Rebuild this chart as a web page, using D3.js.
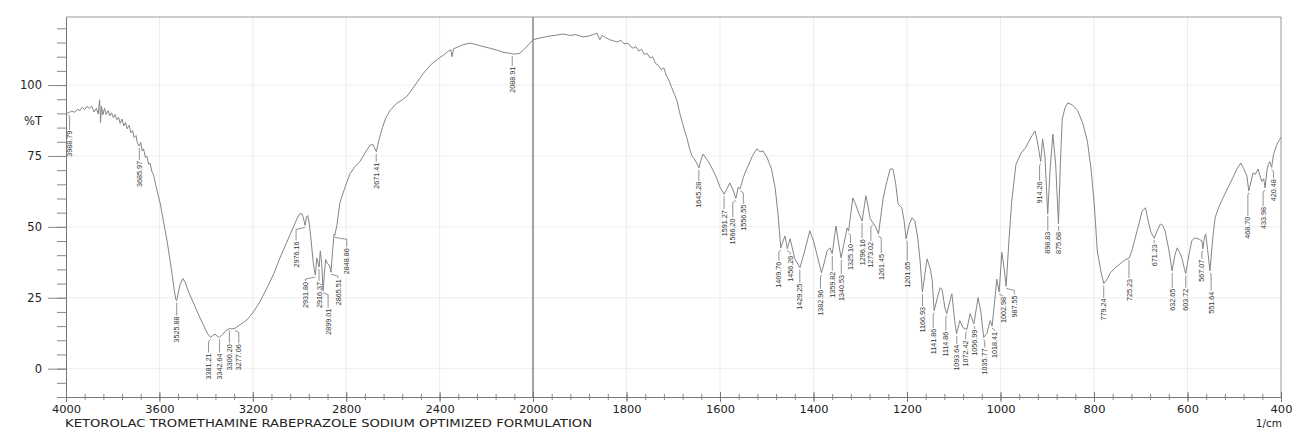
<!DOCTYPE html>
<html>
<head>
<meta charset="utf-8">
<script src="https://cdn.jsdelivr.net/npm/d3@7"></script>
<style>
  body { margin: 0; background: #fff; }
  text { font-family: "DejaVu Sans", sans-serif; }
</style>
</head>
<body>
<div id="chart"></div>
<script>

// spectrum (wavenumber 1/cm, %T)
const wn = [4000,3990,3975,3962,3950,3940,3930,3920,3910,3900,3890,3880,3870,3862,3856,3852,3848,3842,3835,3828,3820,3812,3805,3797,3790,3782,3775,3768,3760,3752,3745,3738,3730,3722,3715,3708,3700,3694,3686,3680,3674,3668,3660,3654,3646,3640,3632,3625,3615,3605,3597,3585,3575,3567,3555,3546,3537,3530,3526,3521,3512,3500,3490,3475,3456,3435,3413,3395,3381,3372,3362,3352,3343,3330,3315,3300,3290,3277,3260,3240,3225,3199,3170,3139,3110,3084,3055,3028,3010,2998,2988,2980,2976,2970,2965,2958,2950,2942,2937,2932,2926,2921,2916,2911,2905,2899,2893,2888,2880,2872,2865,2858,2852,2849,2840,2827,2805,2784,2760,2741,2720,2698,2685,2671,2660,2645,2630,2612,2585,2560,2540,2505,2471,2440,2410,2385,2365,2352,2347,2340,2325,2300,2270,2245,2214,2185,2154,2125,2098,2089,2070,2056,2035,2013,2000,
  1985,1964,1950,1936,1920,1908,1893,1880,1870,1863,1857,1852,1845,1836,1828,1820,1812,1805,1797,1790,1786,1780,1774,1768,1762,1756,1750,1744,1738,1732,1726,1720,1715,1709,1703,1697,1692,1686,1680,1675,1671,1665,1660,1655,1650,1645,1640,1636,1630,1624,1615,1608,1600,1591,1585,1579,1572,1566,1561,1557,1550,1540,1530,1521,1514,1508,1499,1490,1482,1476,1470,1465,1461,1456,1450,1440,1429,1418,1408,1400,1393,1383,1376,1371,1365,1360,1352,1346,1341,1335,1328,1325,1320,1316,1310,1305,1296,1288,1283,1279,1273,1267,1261,1255,1251,1243,1236,1230,1224,1219,1211,1206,1202,1195,1189,1183,1177,1172,1167,1162,1157,1150,1146,1142,1135,1129,1125,1119,1115,1108,1104,1098,1094,1087,1080,1072,1065,1057,1048,1042,1036,1029,1022,1018,1013,1008,1003,997,992,988,982,976,967,956,946,935,926,920,914,910,905,899,894,888,882,876,872,868,862,856,846,835,824,814,806,799,793,785,779,772,765,755,744,735,725,718,712,704,697,690,684,678,671,664,658,653,648,640,633,627,622,617,612,607,604,597,591,586,580,574,569,567,564,561,557,552,546,541,533,524,513,503,494,486,480,473,469,464,460,455,449,445,441,437,434,430,427,424,420,416,409,404,400];

const trans = [90,90.2,90.8,90.4,91.5,91,92.2,91.4,92.5,91.8,92.6,90.5,91.8,89.8,94.8,86.8,92.5,89.5,91.8,89.6,91,89.2,90.2,88.5,89.6,87.8,88.6,86.5,88,85.6,86.8,84.6,85.8,83.2,84,81.5,82.2,79.5,78.5,79.8,76.8,77.5,74.5,75,72,72.5,69.5,68.3,64.5,61,58.5,53,48.5,45,38.5,33.5,28,24.5,24,26,29.5,31.8,30.5,27,23.5,19.5,15.6,12.5,11,11.6,12.2,11.4,11,12,13.4,14.2,14,14.2,15.2,16.3,17.2,19.8,23.5,28.5,33.5,39,44.5,49.6,53,54.7,54.5,52,50.5,53.5,54,51,45,38,35,33,39,37.5,35.8,41.5,37,27.5,34,38.5,37,36.5,34,42,47.5,47,50.5,58.5,64,68.7,71.5,73,76,78.8,79,76.5,80.5,85,88.5,91,93.5,94.8,96,100,104,107,109,110.5,111.8,112.5,110,112.8,113.3,114.2,114.8,114.3,113.6,113,112.3,111.5,111.2,111,111,111.2,112.8,114.8,116,
  116.6,117.3,117.6,118,117.5,117.8,117,117.3,117.9,118.2,116,117.5,116.8,116,115.6,115.2,115.8,114.5,114.8,113.4,113,113.6,112,112.6,110.8,111.2,109.6,110,107.6,107,105.5,106,103.5,101.6,99,96.6,94.5,90,86.5,83.5,81.5,77.5,75,74,72.5,70.8,74,75.7,74.2,72.8,70,67.5,64,61.5,63.5,65.5,63,60,64,63.4,67.5,71.5,75.2,77.5,76.5,76.8,74.3,70.5,63.7,54.6,42.6,45,46.8,42.3,45.8,38.7,35.6,42,48.6,45,40.5,33.8,38,41.5,42.6,40.5,50.3,44,39,44,49.6,48.5,55,60.2,58,55.6,52,61,57,53,51.4,50,47.5,55,60.2,66,70.4,70.4,65,58,56.7,52,45.8,51,53.2,52,46,38,27,33,38.7,35,31,20.4,25,28.5,28,21.5,19.4,24,26.4,16.9,12.3,16.9,14.4,13.8,19.4,15.8,25,20,11,12.5,16.9,15,23,31.5,27,41,35,29,45,59,72,76,78,81.5,83.8,79,73,81,75,54.6,70,82.7,72,51,72,88,92,93.7,93,91,86.5,80,70,57,41.5,34,30,31.5,33.8,35.5,37,38.2,39,42,46,51,55.6,56.7,52,48,46,49,51,50.5,48.6,42,34.5,40,42.6,41,39,35.5,33.5,40,45,46,46,45.5,45,42.3,46,47.5,42,34.5,46,53.2,57,60.2,64,67.3,70.5,72.5,70.5,68,62.7,66,69,68.5,70.4,68,66,67,63.7,70,72,73,71,75.5,79,80.5,81.5];

// peak table printed on the chart
const peakWn = [3988.79,3685.97,3525.88,3381.21,3342.64,3300.20,3277.06,2976.16,2931.80,2916.37,2899.01,2865.51,2848.86,2671.41,2088.91,1645.28,1591.27,1566.20,1556.55,1469.76,1456.26,1429.25,1382.96,1359.82,1340.53,1325.10,1296.16,1273.02,1261.45,1201.65,1166.93,1141.86,1114.86,1093.64,1072.42,1056.99,1035.77,1018.41,1002.98,987.55,914.26,898.83,875.68,779.24,725.23,671.23,632.65,603.72,567.07,551.64,468.70,433.98,420.48];
const peakT = [90.2,78.5,24,11,11,14.2,14.2,50.5,33,35.8,27.5,34,47,76.5,111,70.8,61.5,60,63.4,42.6,42.3,35.6,33.8,40.5,39,48.5,52,51.4,47.5,45.8,27,20.4,19.4,12.3,13.8,15.8,11,15,27,29,73,54.6,51,30,39,46,34.5,33.5,42.3,34.5,62.7,63.7,71];

const yMajor = [0, 25, 50, 75, 100];
const xMajor = [4000,3600,3200,2800,2400,2000,1800,1600,1400,1200,1000,800,600,400];
const title = "KETOROLAC TROMETHAMINE RABEPRAZOLE SODIUM OPTIMIZED FORMULATION";

// label leader tweaks: [dx, leader length]
const nudge = {
  "3988.79":[1,17], "3525.88":[0,15], "3381.21":[-2,15], "3342.64":[0,15], "3300.20":[0,15], "3277.06":[4,15],
  "2976.16":[-9,15], "2931.80":[-10,6], "2899.01":[5,17], "2865.51":[7,6], "2848.86":[12,12], "2671.41":[0,10],
  "2088.91":[0,12], "1645.28":[0,13], "1591.27":[0,15], "1566.20":[-3,19], "1556.55":[3,15], "1469.76":[-2,13],
  "1456.26":[3,6], "1429.25":[0,15], "1382.96":[-1,16], "1359.82":[0,17], "1340.53":[0,16], "1325.10":[2,12],
  "1296.16":[0,17], "1273.02":[-2,18], "1261.45":[3,19], "1201.65":[1,22], "1141.86":[-1,17], "1114.86":[-1,17],
  "1093.64":[0,10], "1072.42":[-1,10], "1056.99":[1,5], "1035.77":[1,10], "1018.41":[3,5], "1002.98":[4,4],
  "987.55":[8,8], "914.26":[-1,19], "898.83":[0,17], "875.68":[0,7], "725.23":[0,20], "671.23":[0,5],
  "632.65":[0,17], "567.07":[-1,10], "551.64":[1,20], "468.70":[-1,25], "433.98":[-2,18], "420.48":[2,11]
};

const W = 1292, H = 436;
const mLeft = 66, mRight = 1281, mTop = 17, mBottom = 397;

const svg = d3.select("#chart").append("svg")
  .attr("width", W).attr("height", H);

// shimadzu style: 4000-2000 at half the scale of 2000-400
const x = d3.scaleLinear().domain([4000, 2000, 400]).range([mLeft, 533, mRight]);
const y = d3.scaleLinear().domain([-10, 124]).range([mBottom, mTop]);

// faint grid
svg.append("g").selectAll("line").data(xMajor.filter(d => d != 4000 && d != 400 && d != 2000))
  .enter().append("line")
  .attr("x1", d => x(d)).attr("x2", d => x(d)).attr("y1", mTop).attr("y2", mBottom)
  .attr("stroke", "#ececec").attr("stroke-width", 1);
svg.append("g").selectAll("line").data(yMajor)
  .enter().append("line")
  .attr("x1", mLeft).attr("x2", mRight).attr("y1", d => y(d)).attr("y2", d => y(d))
  .attr("stroke", "#efefef").attr("stroke-width", 1);

// frame
svg.append("line").attr("x1", mLeft).attr("x2", mRight).attr("y1", mTop).attr("y2", mTop)
  .attr("stroke", "#999");
svg.append("line").attr("x1", mRight).attr("x2", mRight).attr("y1", mTop).attr("y2", mBottom)
  .attr("stroke", "#999");
svg.append("line").attr("x1", x(2000)).attr("x2", x(2000)).attr("y1", mTop).attr("y2", mBottom)
  .attr("stroke", "#666").attr("stroke-width", 1.2);

// y axis, minor then major
svg.append("g")
  .attr("transform", `translate(${mLeft},0)`)
  .call(d3.axisLeft(y).tickValues(d3.range(-10, 125, 5)).tickSize(9).tickSizeOuter(0).tickFormat(""))
  .call(g => g.selectAll("line").attr("stroke", "#888"))
  .call(g => g.select(".domain").attr("stroke", "#777"));
svg.append("g")
  .attr("transform", `translate(${mLeft},0)`)
  .call(d3.axisLeft(y).tickValues(yMajor).tickSize(18).tickPadding(6))
  .call(g => g.select(".domain").remove())
  .call(g => g.selectAll("line").attr("stroke", "#888"))
  .call(g => g.selectAll("text").attr("font-size", 11.5).attr("fill", "#222")
    .style("font-family", "DejaVu Sans"));

svg.append("text")
  .attr("x", 42).attr("y", y(87.5)).attr("dy", "0.35em")
  .attr("text-anchor", "end").attr("font-size", 11.5).attr("fill", "#222")
  .text("%T");

// x axis
const minorX = d3.range(4000, 2000, -80).concat(d3.range(2000, 399, -40));
svg.append("g")
  .attr("transform", `translate(0,${mBottom})`)
  .call(d3.axisBottom(x).tickValues(minorX).tickSize(3).tickSizeOuter(0).tickFormat(""))
  .call(g => g.selectAll(".tick line").attr("y1", -3).attr("stroke", "#888"))
  .call(g => g.select(".domain").attr("stroke", "#777"));
svg.append("g")
  .attr("transform", `translate(0,${mBottom})`)
  .call(d3.axisBottom(x).tickValues(xMajor).tickSize(5).tickPadding(4).tickFormat(d3.format("d")))
  .call(g => g.select(".domain").remove())
  .call(g => g.selectAll(".tick line").attr("y1", -5).attr("stroke", "#777"))
  .call(g => g.selectAll("text").attr("font-size", 10.5).attr("fill", "#222")
    .style("font-family", "DejaVu Sans")
    .attr("textLength", d => String(d).length * 7.3).attr("lengthAdjust", "spacingAndGlyphs"));

svg.append("text")
  .attr("x", mRight + 1).attr("y", 427)
  .attr("text-anchor", "end").attr("font-size", 10.5).attr("fill", "#222")
  .text("1/cm");

svg.append("text")
  .attr("x", 65).attr("y", 426.5)
  .attr("font-size", 10.5).attr("fill", "#222")
  .attr("textLength", 527).attr("lengthAdjust", "spacingAndGlyphs")
  .text(title);

// spectrum
const pts = wn.map((w, i) => [w, trans[i]]);
svg.append("path")
  .datum(pts)
  .attr("fill", "none")
  .attr("stroke", "#858585")
  .attr("stroke-width", 1)
  .attr("d", d3.line().x(d => x(d[0])).y(d => y(d[1])));

// peak labels
const peaks = peakWn.map((w, i) => {
  const key = w.toFixed(2);
  const nd = nudge[key] || [0, 14];
  return { key, px: x(w), py: y(peakT[i]), dx: nd[0], len: nd[1] };
});

const pl = svg.append("g");
pl.selectAll("path").data(peaks).enter().append("path")
  .attr("fill", "none").attr("stroke", "#777").attr("stroke-width", 0.8)
  .attr("d", d => `M${d.px},${d.py + 2} L${d.px + d.dx},${d.py + Math.min(4, d.len)} V${d.py + d.len}`);
pl.selectAll("text").data(peaks).enter().append("text")
  .attr("transform", d => `translate(${d.px + d.dx + 2.6},${d.py + d.len + 1}) rotate(-90)`)
  .attr("text-anchor", "end")
  .attr("font-size", 7.2)
  .style("font-family", "Liberation Sans, Arial, sans-serif")
  .attr("fill", "#333")
  .text(d => d.key);

</script>
</body>
</html>
